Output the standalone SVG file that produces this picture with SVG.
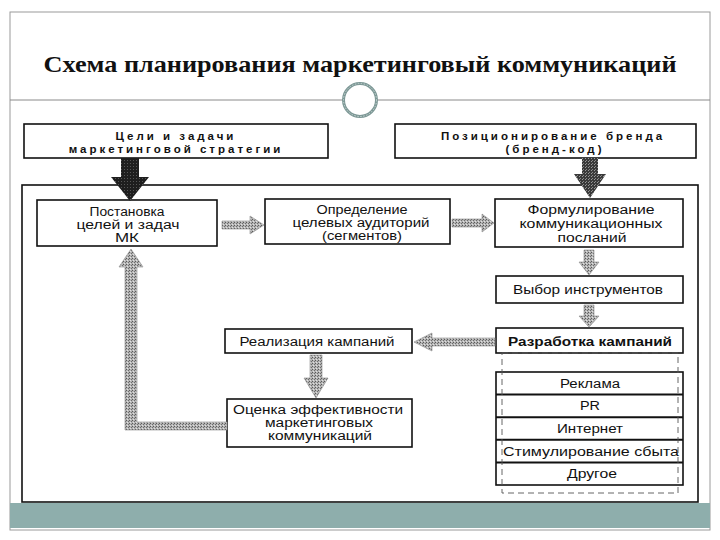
<svg xmlns="http://www.w3.org/2000/svg" width="720" height="540" viewBox="0 0 720 540">
<defs>
<pattern id="hatch" width="3" height="3" patternUnits="userSpaceOnUse">
<rect width="3" height="3" fill="#b4b4b4"/>
<rect x="0" y="0" width="1" height="1" fill="#5a5a5a"/>
<rect x="2" y="1" width="1" height="1" fill="#6e6e6e"/>
<rect x="1" y="2" width="1" height="1" fill="#e0e0e0"/>
</pattern>
<pattern id="dark" width="3" height="3" patternUnits="userSpaceOnUse">
<rect width="3" height="3" fill="#1e1e1e"/>
<rect x="1" y="1" width="1" height="1" fill="#555"/>
</pattern>
<pattern id="darkgray" width="3" height="3" patternUnits="userSpaceOnUse">
<rect width="3" height="3" fill="#3a3a3a"/>
<rect x="1" y="1" width="1" height="1" fill="#888"/>
<rect x="0" y="2" width="1" height="1" fill="#999"/>
</pattern>
</defs>
<style>
.box{fill:#fff;stroke:#111;stroke-width:1.6}
.t{font-family:"Liberation Sans",Arial,sans-serif;font-size:12px;fill:#111;text-anchor:middle}
.b{font-family:"Liberation Sans",Arial,sans-serif;font-size:11.5px;font-weight:bold;letter-spacing:3px;fill:#111;text-anchor:middle}
.bd{font-weight:bold}
.arr{fill:url(#hatch);stroke:#8a8a8a;stroke-width:0.6}
.frame{fill:none;stroke:#9a9a9a;stroke-width:1}
</style>
<rect width="720" height="540" fill="#fff"/>
<g id="slide">
<rect class="frame" x="10" y="12" width="700" height="518"/>
<line x1="10" y1="100" x2="710" y2="100" stroke="#8a8a8a" stroke-width="1"/>
<circle cx="360" cy="100" r="16.5" fill="#fff" stroke="#7d9896" stroke-width="3"/>
<circle cx="360" cy="100" r="16.5" fill="none" stroke="#c8d6d4" stroke-width="1" stroke-dasharray="1.5 1.5"/>
<text x="360" y="72" font-family="Liberation Serif,'Times New Roman',serif" font-size="24" font-weight="bold" text-anchor="middle" fill="#111" textLength="633" lengthAdjust="spacingAndGlyphs">Схема планирования маркетинговый коммуникаций</text>
<rect x="10" y="503" width="700" height="25" fill="#8eaeac"/>
</g>
<g id="outer">
<rect x="22" y="185" width="676" height="317" fill="none" stroke="#111" stroke-width="1.6"/>
</g>
<g id="goals">
<rect class="box" x="24" y="124" width="304" height="34"/>
<text class="b" x="176" y="140">Цели и задачи</text>
<text class="b" x="176" y="153">маркетинговой стратегии</text>
</g>
<g id="brand">
<rect class="box" x="395" y="124" width="301" height="34"/>
<text class="b" x="553" y="140">Позиционирование бренда</text>
<text class="b" x="555" y="153">(бренд-код)</text>
</g>
<g id="setgoals">
<rect class="box" x="37" y="200" width="180" height="46"/>
<text class="t" x="127" y="216" textLength="75" lengthAdjust="spacingAndGlyphs">Постановка</text>
<text class="t" x="128" y="229" textLength="103" lengthAdjust="spacingAndGlyphs">целей и задач</text>
<text class="t" x="127" y="242" textLength="24" lengthAdjust="spacingAndGlyphs">МК</text>
</g>
<g id="audience">
<rect class="box" x="265" y="199" width="185" height="45"/>
<text class="t" x="362" y="214" textLength="91" lengthAdjust="spacingAndGlyphs">Определение</text>
<text class="t" x="361" y="227" textLength="137" lengthAdjust="spacingAndGlyphs">целевых аудиторий</text>
<text class="t" x="362" y="240" textLength="80" lengthAdjust="spacingAndGlyphs">(сегментов)</text>
</g>
<g id="messages">
<rect class="box" x="495" y="199" width="188" height="48"/>
<text class="t" x="591" y="214" textLength="127" lengthAdjust="spacingAndGlyphs">Формулирование</text>
<text class="t" x="591" y="228" textLength="143" lengthAdjust="spacingAndGlyphs">коммуникационных</text>
<text class="t" x="592" y="242" textLength="69" lengthAdjust="spacingAndGlyphs">посланий</text>
</g>
<g id="tools">
<rect class="box" x="496" y="276" width="187" height="27"/>
<text class="t" x="588" y="294" textLength="150" lengthAdjust="spacingAndGlyphs">Выбор инструментов</text>
</g>
<g id="develop">
<rect class="box" x="496" y="328" width="187" height="25"/>
<text class="t bd" x="590" y="346" textLength="164" lengthAdjust="spacingAndGlyphs">Разработка кампаний</text>
</g>
<g id="realize">
<rect class="box" x="225" y="329" width="187" height="24"/>
<text class="t" x="317" y="346" textLength="155" lengthAdjust="spacingAndGlyphs">Реализация кампаний</text>
</g>
<g id="evaluate">
<rect class="box" x="227" y="399" width="185" height="48"/>
<text class="t" x="318" y="414" textLength="170" lengthAdjust="spacingAndGlyphs">Оценка эффективности</text>
<text class="t" x="319" y="427" textLength="108" lengthAdjust="spacingAndGlyphs">маркетинговых</text>
<text class="t" x="320" y="440" textLength="104" lengthAdjust="spacingAndGlyphs">коммуникаций</text>
</g>
<g id="channels">
<rect x="496" y="372" width="187" height="113" fill="#fff" stroke="#111" stroke-width="1.6"/>
<line x1="496" y1="394.6" x2="683" y2="394.6" stroke="#111" stroke-width="2"/>
<line x1="496" y1="417.2" x2="683" y2="417.2" stroke="#111" stroke-width="2"/>
<line x1="496" y1="439.8" x2="683" y2="439.8" stroke="#111" stroke-width="2"/>
<line x1="496" y1="462.4" x2="683" y2="462.4" stroke="#111" stroke-width="2"/>
<text class="t" x="590" y="388" textLength="60" lengthAdjust="spacingAndGlyphs">Реклама</text>
<text class="t" x="590" y="410" textLength="20" lengthAdjust="spacingAndGlyphs">PR</text>
<text class="t" x="590" y="433" textLength="66" lengthAdjust="spacingAndGlyphs">Интернет</text>
<text class="t" x="591" y="456" textLength="176" lengthAdjust="spacingAndGlyphs">Стимулирование сбыта</text>
<text class="t" x="592" y="478" textLength="50" lengthAdjust="spacingAndGlyphs">Другое</text>
<rect x="502" y="353" width="176" height="140" fill="none" stroke="#555" stroke-width="0.9" stroke-dasharray="6 4"/>
</g>
<g id="connectors">
<polygon fill="url(#dark)" points="121,158 139,158 139,177 149,177 130,201 111,177 121,177"/>
<polygon fill="url(#darkgray)" points="582,158 598,158 598,174 606,174 590,198 574,174 582,174"/>
<polygon class="arr" points="222,221 250,221 250,216 264,225 250,234 250,229 222,229"/>
<polygon class="arr" points="452,219 482,219 482,214 494,223 482,232 482,227 452,227"/>
<polygon class="arr" points="584,250 594,250 594,262 599,262 589,275 579,262 584,262"/>
<polygon class="arr" points="584,305 594,305 594,316 599,316 589,327 579,316 584,316"/>
<polygon class="arr" points="495,338 432,338 432,333 414,342 432,351 432,346 495,346"/>
<polygon class="arr" points="310,355 322,355 322,378 328,378 316,398 304,378 310,378"/>
<polygon class="arr" points="227,422 137,422 137,267 143,267 131,249 119,267 125,267 125,430 227,430"/>
</g>
</svg>
